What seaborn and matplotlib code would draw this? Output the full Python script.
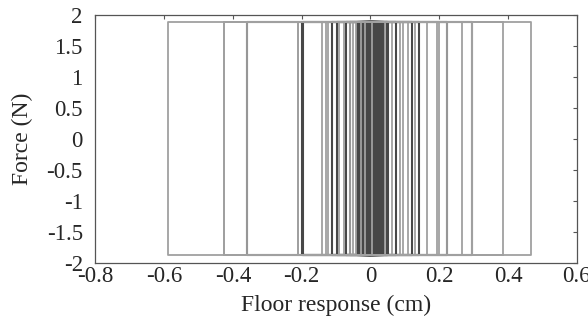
import numpy as np
import pandas as pd
import matplotlib
matplotlib.use('Agg')
import matplotlib.pyplot as plt
import seaborn as sns

# ── DATA ────────────────────────────────────────────────────
friction_force = 1.88   # slip force level (N)

# reversal displacements (cm), in order, alternating max / min
gray_reversals = [0.005, -0.026, 0.043, -0.043, 0.063, -0.05, 0.087, -0.078,
                  0.096, -0.09, 0.13, -0.122, 0.164, -0.13, 0.193, -0.14,
                  0.2, -0.21, 0.222, -0.359, 0.267, -0.426, 0.296, -0.588,
                  0.467, -0.426, 0.386, -0.21, 0.296, -0.06, 0.11, -0.015]
dark_reversals = [0.002, -0.003, 0.006, -0.006, 0.009, -0.009, 0.012, -0.012,
                  0.015, -0.016, 0.018, -0.019, 0.021, -0.022, 0.024, -0.025,
                  0.027, -0.028, 0.030, -0.031, 0.033, -0.034, 0.036, -0.037,
                  0.039, -0.039, 0.052, -0.06, 0.075, -0.07, 0.12, -0.097,
                  0.142, -0.111, 0.222, -0.197, 0.296, -0.359, 0.048, -0.2]

series_names = ['dark', 'gray']
series_colors = {'dark': '#474747', 'gray': '#a0a0a0'}
series_widths = {'dark': 1.5, 'gray': 1.3}

x_ticks = [-0.8, -0.6, -0.4, -0.2, 0, 0.2, 0.4, 0.6]
x_labels = ['-0.8', '-0.6', '-0.4', '-0.2', '0', '0.2', '0.4', '0.6']
y_ticks = [-2, -1.5, -1, -0.5, 0, 0.5, 1, 1.5, 2]
y_labels = ['-2', '-1.5', '-1', '-0.5', '0', '0.5', '1', '1.5', '2']


def loop_path(reversals, name):
    # friction loop: top branch moving right, vertical drop at a max,
    # bottom branch moving left, vertical rise at a min
    xs, ys = [], []
    sign = 1
    for r in reversals:
        xs += [r, r]
        ys += [sign * friction_force, -sign * friction_force]
        sign = -sign
    return pd.DataFrame({'disp': xs, 'force': ys, 'series': name,
                         'order': range(len(xs))})


df = pd.concat([loop_path(dark_reversals, 'dark'),
                loop_path(gray_reversals, 'gray')], ignore_index=True)

# ── PLOT ────────────────────────────────────────────────────
sns.set_style('white')
plt.rcParams['font.family'] = ['Liberation Serif', 'DejaVu Serif']
plt.rcParams['axes.unicode_minus'] = False

fig, ax = plt.subplots(figsize=(5.88, 3.23), dpi=100)
fig.subplots_adjust(left=0.162, right=0.981, bottom=0.186, top=0.954)

for name in series_names:
    sub = df[df['series'] == name]
    sns.lineplot(data=sub, x='disp', y='force', sort=False, estimator=None,
                 color=series_colors[name], linewidth=series_widths[name],
                 ax=ax, legend=False)

ax.set_xlim(-0.8, 0.6)
ax.set_ylim(-2, 2)
ax.set_xticks(x_ticks)
ax.set_xticklabels(x_labels)
ax.set_yticks(y_ticks)
ax.set_yticklabels(y_labels)
ax.tick_params(direction='in', length=3, width=0.8, color='#555555',
               top=True, right=True, labelsize=16.5)
ax.tick_params(axis='x', pad=2)
ax.tick_params(axis='y', pad=9)
for sp in ax.spines.values():
    sp.set_color('#555555')
    sp.set_linewidth(0.9)

ax.set_xlabel('Floor response (cm)', fontsize=17, labelpad=6)
ax.set_ylabel('Force (N)', fontsize=17, labelpad=10)

plt.savefig('out.png', dpi=100)
